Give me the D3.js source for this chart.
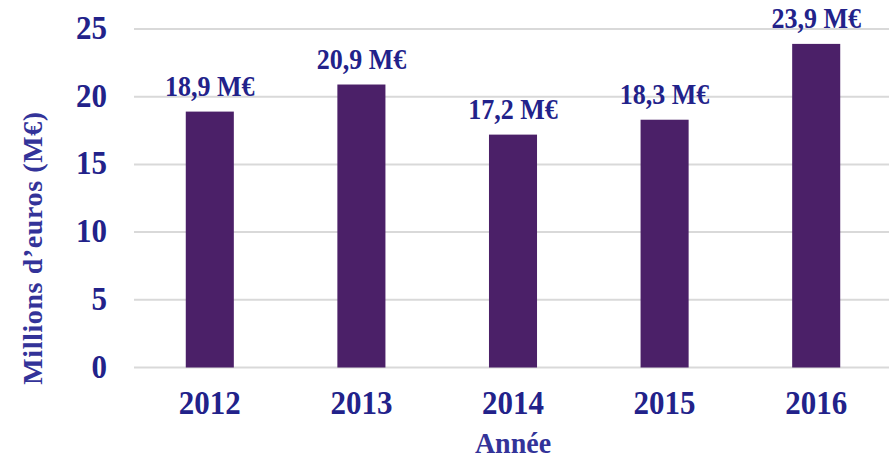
<!DOCTYPE html>
<html>
<head>
<meta charset="utf-8">
<script src="https://cdn.jsdelivr.net/npm/d3@7"></script>
<style>
  body { margin: 0; background: #fff; }
  text { font-family: "Liberation Serif", "Times New Roman", serif; font-weight: bold; }
</style>
</head>
<body>
<svg id="chart" width="889" height="460"></svg>
<script>
var years = ["2012", "2013", "2014", "2015", "2016"];
var values = [18.9, 20.9, 17.2, 18.3, 23.9];
var labels = ["18,9 M€", "20,9 M€", "17,2 M€", "18,3 M€", "23,9 M€"];
var yTicks = [0, 5, 10, 15, 20, 25];

var margin = { top: 29, right: 0, bottom: 93, left: 134 },
  width = 889 - margin.left - margin.right,
  height = 460 - margin.top - margin.bottom;

var svg = d3.select("#chart");
var g = svg.append("g")
  .attr("transform", "translate(" + margin.left + "," + margin.top + ")");

var x = d3.scaleBand()
  .domain(years)
  .range([0, 758])
  .paddingInner(0.683)
  .paddingOuter(0.3415);

var y = d3.scaleLinear().domain([0, 25]).range([height + 0.5, 0]);

// gridlines
g.selectAll(".grid")
  .data(yTicks)
  .enter()
  .append("line")
  .attr("x1", 0)
  .attr("x2", width)
  .attr("y1", function(d) { return y(d); })
  .attr("y2", function(d) { return y(d); })
  .attr("stroke", "#d9d9d9")
  .attr("stroke-width", 2);

// y tick labels
g.selectAll(".ytick")
  .data(yTicks)
  .enter()
  .append("text")
  .attr("transform", function(d) { return "translate(-27," + (y(d) + 10) + ") scale(1,1.1)"; })
  .attr("text-anchor", "end")
  .attr("fill", "#22228a")
  .style("font-size", "31px")
  .text(function(d) { return d; });

// bars
g.selectAll(".bar")
  .data(values)
  .enter()
  .append("rect")
  .attr("x", function(d, i) { return x(years[i]); })
  .attr("y", function(d) { return y(d); })
  .attr("width", x.bandwidth())
  .attr("height", function(d) { return y(0) - y(d); })
  .attr("fill", "#4b2068");

// value labels
g.selectAll(".lab")
  .data(values)
  .enter()
  .append("text")
  .attr("transform", function(d, i) {
    return "translate(" + (x(years[i]) + x.bandwidth() / 2) + "," + (y(d) - 16) + ") scale(1,1.12)";
  })
  .attr("text-anchor", "middle")
  .attr("fill", "#22228a")
  .style("font-size", "26px")
  .text(function(d, i) { return labels[i]; });

// x tick labels
g.selectAll(".xtick")
  .data(years)
  .enter()
  .append("text")
  .attr("transform", function(d) {
    return "translate(" + (x(d) + x.bandwidth() / 2) + "," + (height + 47) + ") scale(1,1.12)";
  })
  .attr("text-anchor", "middle")
  .attr("fill", "#22228a")
  .style("font-size", "31px")
  .text(function(d) { return d; });

// axis titles
svg.append("text")
  .attr("transform", "translate(513,453) scale(1,1.05)")
  .attr("text-anchor", "middle")
  .attr("fill", "#333399")
  .style("font-size", "28px")
  .text("Année");

svg.append("text")
  .attr("transform", "translate(42,248) rotate(-90)")
  .attr("text-anchor", "middle")
  .attr("fill", "#333399")
  .style("font-size", "28px")
  .style("letter-spacing", "0.6px")
  .text("Millions d’euros (M€)");
</script>
</body>
</html>
